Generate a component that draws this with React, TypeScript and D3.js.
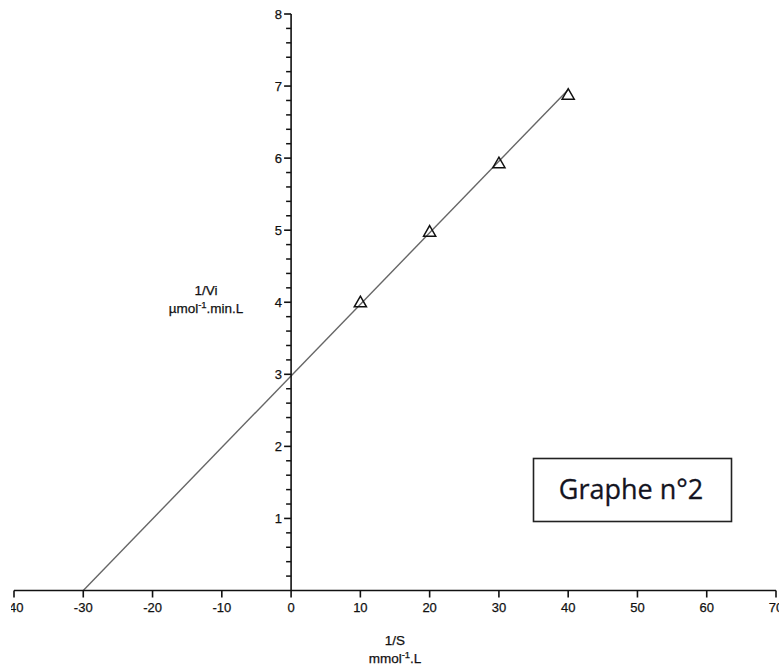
import React from "react";
import * as d3 from "d3";

const invS = [10, 20, 30, 40];
const invV = [4.0, 4.98, 5.93, 6.88];
const fitX = [-30, 40];
const fitY = [0, 6.95];
const xTicks = [-40, -30, -20, -10, 0, 10, 20, 30, 40, 50, 60, 70];
const yTicks = [1, 2, 3, 4, 5, 6, 7, 8];
const yMinorTicks = d3.range(1, 40).map((i) => i / 5).filter((v) => Math.abs(v - Math.round(v)) > 1e-6);

const W = 779;
const H = 670;

export default function App() {
  const x = d3.scaleLinear().domain([-40, 70]).range([14, 776]);
  const y = d3.scaleLinear().domain([0, 8]).range([590.5, 14]);
  const font = "'Liberation Sans', Arial, sans-serif";
  const line = d3.line<[number, number]>().x((d) => x(d[0])).y((d) => y(d[1]));
  const fitPts: [number, number][] = fitX.map((v, i) => [v, fitY[i]]);
  const tri = d3.symbol().type(d3.symbolTriangle).size(64);
  const x0 = x(0);
  const txt = { fontFamily: font, fill: "#111", stroke: "#111", strokeWidth: 0.25 } as const;

  return (
    <svg width={W} height={H} style={{ position: "absolute", left: 0, top: 0, background: "#fff" }}>
      <defs>
        <clipPath id="clipL">
          <rect x={11} y={0} width={W} height={H} />
        </clipPath>
      </defs>
      <path d={line(fitPts) || ""} fill="none" stroke="#666" strokeWidth={1.4} />
      <line x1={x(-40)} x2={x(70)} y1={y(0)} y2={y(0)} stroke="#111" strokeWidth={1.6} />
      {xTicks.map((t) => (
        <line key={"xt" + t} x1={x(t)} x2={x(t)} y1={y(0)} y2={y(0) + 7} stroke="#111" strokeWidth={1.6} />
      ))}
      <g clipPath="url(#clipL)">
        {xTicks.map((t) => (
          <text key={"xl" + t} x={x(t)} y={611.5} textAnchor="middle" fontSize={13} {...txt}>
            {t}
          </text>
        ))}
      </g>
      <line x1={x0} x2={x0} y1={y(8)} y2={y(0)} stroke="#111" strokeWidth={1.6} />
      {yMinorTicks.map((t) => (
        <line key={"ym" + t} x1={x0 - 5} x2={x0} y1={y(t)} y2={y(t)} stroke="#111" strokeWidth={1.5} />
      ))}
      {yTicks.map((t) => (
        <g key={"yt" + t}>
          <line x1={x0 - 7} x2={x0} y1={y(t)} y2={y(t)} stroke="#111" strokeWidth={1.6} />
          <text x={x0 - 9} y={y(t) + 4.5} textAnchor="end" fontSize={13} {...txt}>
            {t}
          </text>
        </g>
      ))}
      {invS.map((s, i) => (
        <path
          key={"p" + i}
          d={tri() || ""}
          transform={`translate(${x(s)},${y(invV[i]) + 1})`}
          fill="none"
          stroke="#111"
          strokeWidth={1.5}
        />
      ))}
      <text x={206} y={295} textAnchor="middle" fontSize={13.5} {...txt}>
        1/Vi
      </text>
      <text x={206} y={313} textAnchor="middle" fontSize={13.5} {...txt}>
        µmol<tspan dy={-5} fontSize={9.5}>-1</tspan>
        <tspan dy={5}>.min.L</tspan>
      </text>
      <text x={395} y={645} textAnchor="middle" fontSize={13.5} {...txt}>
        1/S
      </text>
      <text x={395} y={663} textAnchor="middle" fontSize={13.5} {...txt}>
        mmol<tspan dy={-5} fontSize={9.5}>-1</tspan>
        <tspan dy={5}>.L</tspan>
      </text>
      <rect x={533.5} y={458.5} width={198} height={63} fill="#fff" stroke="#222" strokeWidth={1.6} />
      <text
        x={631}
        y={499}
        textAnchor="middle"
        fontFamily="'Open Sans', 'Noto Sans', sans-serif"
        fontSize={27}
        fill="#14141f"
        stroke="#14141f"
        strokeWidth={0.3}
      >
        Graphe n°2
      </text>
    </svg>
  );
}
